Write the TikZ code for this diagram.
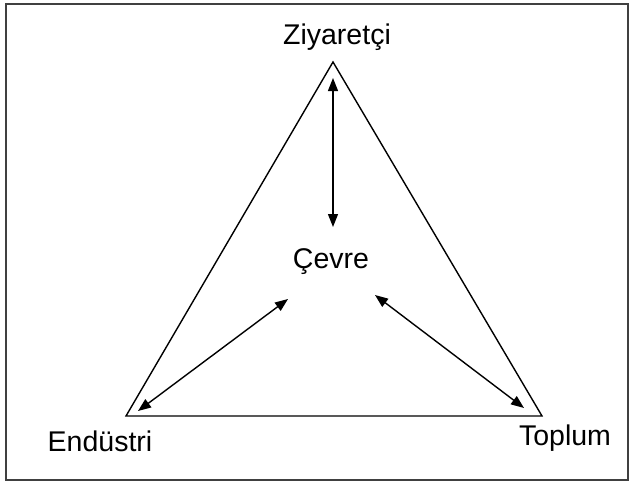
\documentclass[tikz,border=0pt]{standalone}
\usepackage{fontspec}
\setmainfont{Liberation Sans}
\usetikzlibrary{arrows.meta}
\begin{document}
\begin{tikzpicture}[x=1pt,y=-1pt,
  label/.style={font=\fontsize{28.5}{34}\selectfont, anchor=base, inner sep=0pt},
  edge/.style={line width=1.4pt, line join=miter},
  link/.style={line width=1.4pt, {Triangle[length=13pt,width=10pt]}-{Triangle[length=13pt,width=10pt]}}]
  \useasboundingbox (0,0) rectangle (633,482);
  % outer frame
  \draw[line width=1.6pt, black!75] (6,4) rectangle (628,480);
  % triangle corners
  \coordinate (top) at (333,62);
  \coordinate (left) at (126,416);
  \coordinate (right) at (542,416);
  \draw[edge] (top) -- (left) -- (right) -- cycle;
  % labels
  \node[label] (ziy) at (337,44) {Ziyaretçi};
  \node[label] (cev) at (331,268) {Çevre};
  \node[label] (end) at (100,451) {Endüstri};
  \node[label] (top2) at (565,445) {Toplum};
  % arrow end points
  \coordinate (v1) at (333,78);
  \coordinate (v2) at (333,227);
  \coordinate (l1) at (288,299);
  \coordinate (l2) at (138,411);
  \coordinate (r1) at (375,295);
  \coordinate (r2) at (524,408);
  \draw[link] (v1) -- (v2);
  \draw[link] (l1) -- (l2);
  \draw[link] (r1) -- (r2);
\end{tikzpicture}
\end{document}
